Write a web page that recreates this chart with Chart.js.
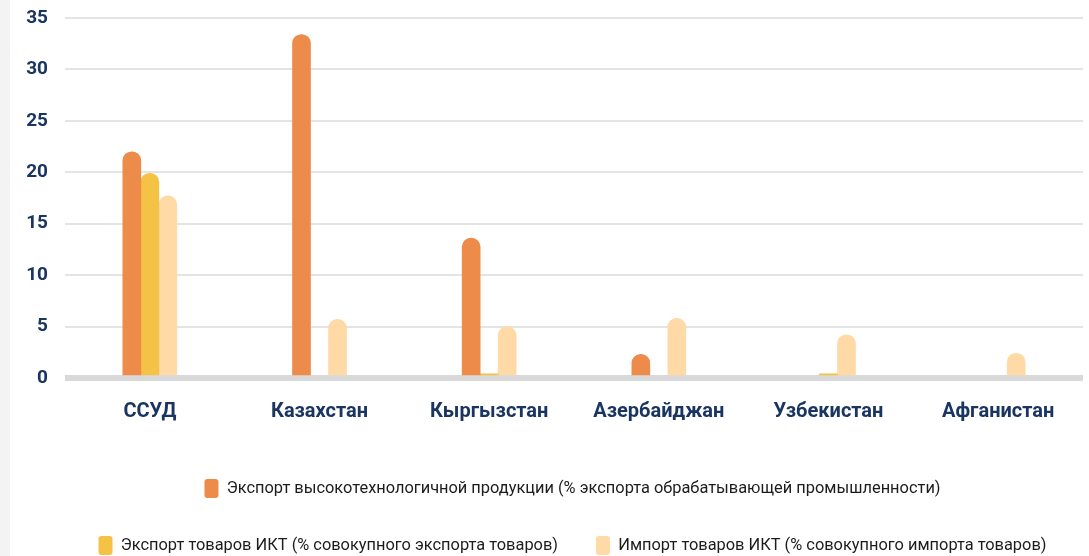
<!DOCTYPE html>
<html>
<head>
<meta charset="utf-8">
<script src="https://cdn.jsdelivr.net/npm/chart.js@4.4.1/dist/chart.umd.min.js"></script>
<style>
  html, body { margin: 0; padding: 0; background: #ffffff; }
  #wrap { position: relative; width: 1089px; height: 556px; overflow: hidden; }
  #strip { position: absolute; left: 0; top: 0; width: 10px; height: 556px; background: #f3f3f3; }
  canvas { position: absolute; left: 0; top: 0; }
</style>
</head>
<body>
<div id="wrap">
  <div id="strip"></div>
  <canvas id="c" width="1089" height="556"></canvas>
</div>
<script>
const categories = ['ССУД', 'Казахстан', 'Кыргызстан', 'Азербайджан', 'Узбекистан', 'Афганистан'];
const seriesNames = [
  'Экспорт высокотехнологичной продукции (% экспорта обрабатывающей промышленности)',
  'Экспорт товаров ИКТ (% совокупного экспорта товаров)',
  'Импорт товаров ИКТ (% совокупного импорта товаров)'
];
const hiTechExport = [22.0, 33.4, 13.6, 2.3, null, null];
const ictExport    = [19.9, null, 0.4, null, 0.4, null];
const ictImport    = [17.7, 5.7, 5.0, 5.8, 4.2, 2.4];
const yTicks = [0, 5, 10, 15, 20, 25, 30, 35];
const colors = ['#ED8B4A', '#F4C244', '#FFD9A6'];

const navy = '#1a3560';
const barCommon = {
  barThickness: 18,
  categoryPercentage: 0.39,
  barPercentage: 1,
  borderRadius: { topLeft: 9, topRight: 9 },
  borderSkipped: 'start'
};

// shift the legend block slightly right, as in the reference
const legendShift = {
  id: 'legendShift',
  afterLayout(chart) {
    if (chart.legend) {
      chart.legend.left += 31;
      chart.legend.right += 31;
    }
  }
};

new Chart(document.getElementById('c'), {
  type: 'bar',
  data: {
    labels: categories,
    datasets: [
      Object.assign({ label: seriesNames[0], data: hiTechExport, backgroundColor: colors[0] }, barCommon),
      Object.assign({ label: seriesNames[1], data: ictExport, backgroundColor: colors[1] }, barCommon),
      Object.assign({ label: seriesNames[2], data: ictImport, backgroundColor: colors[2] }, barCommon)
    ]
  },
  plugins: [legendShift],
  options: {
    responsive: false,
    animation: false,
    layout: { padding: { top: 18, right: 6, left: 0, bottom: 0 } },
    plugins: {
      tooltip: { enabled: false },
      legend: {
        position: 'bottom',
        maxHeight: 115,
        labels: {
          boxWidth: 14,
          boxHeight: 19,
          useBorderRadius: true,
          borderRadius: 3,
          padding: 38,
          color: '#1c1c1c',
          font: { family: 'Roboto', size: 16.4 }
        }
      }
    },
    scales: {
      x: {
        grid: { display: false, drawTicks: false },
        border: { display: false },
        ticks: {
          color: navy,
          padding: 22,
          font: { family: 'Roboto', weight: 'bold', size: 20 }
        },
        afterFit: (s) => { s.height = 63; }
      },
      y: {
        min: 0,
        max: 35,
        afterBuildTicks: (s) => { s.ticks = yTicks.map(v => ({ value: v })); },
        grid: {
          drawTicks: false,
          color: (ctx) => ctx.tick && ctx.tick.value === 0 ? '#d9d9d9' : '#e4e4e4',
          lineWidth: (ctx) => ctx.tick && ctx.tick.value === 0 ? 6 : 2
        },
        border: { display: false },
        ticks: {
          color: navy,
          padding: 17,
          font: { family: 'Roboto', weight: 'bold', size: 19 }
        },
        afterFit: (s) => { s.width = 65; s.paddingTop = 0; s.paddingBottom = 0; }
      }
    }
  }
});
</script>
</body>
</html>
